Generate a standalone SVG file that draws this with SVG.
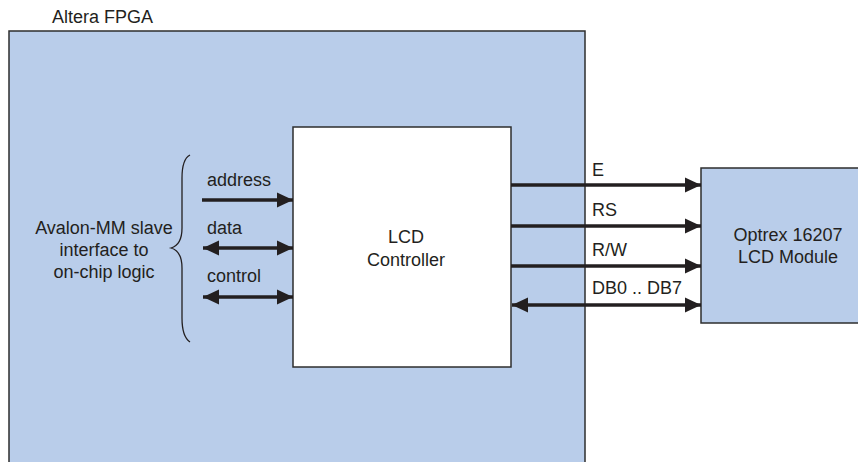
<svg xmlns="http://www.w3.org/2000/svg" width="858" height="462" viewBox="0 0 858 462">
<defs>
<style>
text{font-family:"Liberation Sans",Arial,sans-serif;font-size:18px;fill:#231f20}
.c{text-anchor:middle}
.box{fill:#b9cdea;stroke:#2e2e2e;stroke-width:1.5}
.wbox{fill:#ffffff;stroke:#2e2e2e;stroke-width:1.5}
.w{stroke:#231f20;stroke-width:3.5;fill:none}
.brace{stroke:#231f20;stroke-width:1.3;fill:none}
</style>
<marker id="ah" viewBox="0 0 16 16" refX="16" refY="8" markerWidth="16" markerHeight="16" markerUnits="userSpaceOnUse" orient="auto-start-reverse">
<path d="M0,0.5 L16,8 L0,15.5 Z" fill="#231f20"/>
</marker>
</defs>
<g id="fpga">
<rect class="box" x="9" y="31" width="576" height="450"/>
<text x="52" y="23">Altera FPGA</text>
</g>
<g id="avalon">
<path class="brace" d="M190,155 C184,158 182,166 182,178 L182,228 C182,240 178,246 171,248 C178,250 182,256 182,268 L182,318 C182,330 184,338 190,342"/>
<text class="c" x="104" y="234">Avalon-MM slave</text>
<text class="c" x="104" y="256">interface to</text>
<text class="c" x="104" y="278">on-chip logic</text>
</g>
<g id="controller">
<rect class="wbox" x="293" y="127" width="218" height="240"/>
<text class="c" x="406" y="243">LCD</text>
<text class="c" x="406" y="266">Controller</text>
</g>
<g id="module">
<rect class="box" x="701" y="168" width="170" height="155"/>
<text class="c" x="788" y="241">Optrex 16207</text>
<text class="c" x="788" y="263">LCD Module</text>
</g>
<g id="connectors">
<line class="w" x1="202" y1="200" x2="293" y2="200" marker-end="url(#ah)"/>
<line class="w" x1="203" y1="248" x2="293" y2="248" marker-start="url(#ah)" marker-end="url(#ah)"/>
<line class="w" x1="203" y1="297" x2="293" y2="297" marker-start="url(#ah)" marker-end="url(#ah)"/>
<line class="w" x1="511" y1="185" x2="701" y2="185" marker-end="url(#ah)"/>
<line class="w" x1="511" y1="226" x2="701" y2="226" marker-end="url(#ah)"/>
<line class="w" x1="511" y1="266" x2="701" y2="266" marker-end="url(#ah)"/>
<line class="w" x1="512" y1="305" x2="701" y2="305" marker-start="url(#ah)" marker-end="url(#ah)"/>
<text x="207" y="186">address</text>
<text x="207" y="234">data</text>
<text x="207" y="282">control</text>
<text x="592" y="176">E</text>
<text x="592" y="216">RS</text>
<text x="592" y="256">R/W</text>
<text x="592" y="294">DB0 .. DB7</text>
</g>
</svg>
